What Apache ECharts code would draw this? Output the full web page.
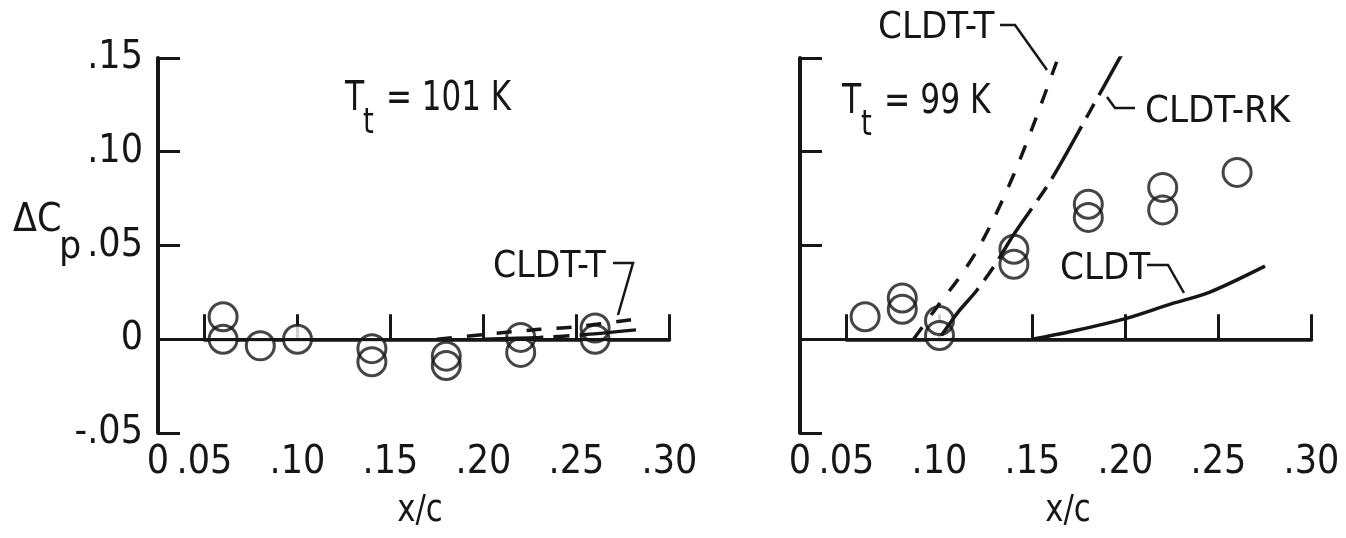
<!DOCTYPE html>
<html>
<head>
<meta charset="utf-8">
<title>ΔCp vs x/c</title>
<script src="https://cdn.jsdelivr.net/npm/echarts@6/dist/echarts.min.js"></script>
<style>
  html, body { margin: 0; padding: 0; background: #ffffff; }
  #chart { width: 1346px; height: 538px; }
</style>
</head>
<body>
<div id="chart"></div>
<script>
// Tick labels (broken x axis: "0" sits at the y axis, scale starts at .05)
const xTickLabels = ['0', '.05', '.10', '.15', '.20', '.25', '.30'];
const yTickLabels = ['-.05', '0', '.05', '.10', '.15'];

// Measured pressure increments, Tt = 101 K
const left101Measured = [
  [0.06, 0.012], [0.06, 0.0], [0.08, -0.0035], [0.10, 0.0],
  [0.14, -0.005], [0.14, -0.012], [0.18, -0.009], [0.18, -0.014],
  [0.22, 0.001], [0.22, -0.007], [0.26, 0.006], [0.26, 0.0]
];
// Theory, Tt = 101 K
const left101CLDT_T = [[0.175, 0.0], [0.20, 0.0025], [0.23, 0.0053], [0.25, 0.0067], [0.28, 0.0105]];
const left101CLDT_RK = [[0.20, 0.0], [0.23, 0.001], [0.255, 0.0025], [0.282, 0.005]];

// Measured pressure increments, Tt = 99 K
const right99Measured = [
  [0.06, 0.012], [0.08, 0.022], [0.08, 0.016], [0.10, 0.010], [0.10, 0.002],
  [0.14, 0.048], [0.14, 0.040], [0.18, 0.072], [0.18, 0.065],
  [0.22, 0.081], [0.22, 0.069], [0.26, 0.089]
];
// Theory, Tt = 99 K
const right99CLDT_T = [[0.086, 0.0], [0.10, 0.019], [0.11, 0.032], [0.12, 0.047], [0.13, 0.066], [0.14, 0.088], [0.15, 0.113], [0.163, 0.148]];
const right99CLDT_RK = [[0.101, 0.002], [0.11, 0.0145], [0.12, 0.026], [0.13, 0.040], [0.14, 0.056], [0.16, 0.085], [0.18, 0.12], [0.198, 0.152]];
const right99CLDT = [[0.15, 0.0], [0.17, 0.004], [0.20, 0.011], [0.225, 0.019], [0.245, 0.025], [0.275, 0.039]];

const INK = '#161616';
const FONT = '"Liberation Sans Narrow", "Arial Narrow", "DejaVu Sans Condensed", sans-serif';
const TICK_FONT = 39;
const NOTE_FONT = 38;

const xLabelFor = v => xTickLabels[Math.round((v - 0.05) / 0.05) + 1];
const yLabelFor = v => yTickLabels[Math.round((v + 0.05) / 0.05)];

// Two panels; each has a data grid starting at the y axis and a scale grid starting at .05
const panels = [{ left: 158, labels: true }, { left: 800, labels: false }];
const PX_PER_UNIT = 1860;
const TOP = 58, HEIGHT = 375;

const grid = [], xAxis = [], yAxis = [];
panels.forEach((p, i) => {
  const dataLeft = p.left;
  const scaleLeft = p.left + 0.025 * PX_PER_UNIT;
  grid.push({ left: dataLeft, top: TOP, width: 0.275 * PX_PER_UNIT, height: HEIGHT, outerBoundsMode: 'none' });
  grid.push({ left: scaleLeft, top: TOP, width: 0.25 * PX_PER_UNIT, height: HEIGHT, outerBoundsMode: 'none' });

  // data x axis: only the "0" at the origin
  xAxis.push({
    type: 'value', gridIndex: 2 * i, min: 0.025, max: 0.30,
    axisLine: { show: false }, axisTick: { show: false }, splitLine: { show: false },
    axisLabel: {
      customValues: [0.025], formatter: () => xTickLabels[0],
      color: INK, fontSize: TICK_FONT, fontFamily: FONT, margin: 10
    }
  });
  // scale x axis from .05 to .30
  xAxis.push({
    type: 'value', gridIndex: 2 * i + 1, min: 0.05, max: 0.30, interval: 0.05,
    axisLine: { show: true, lineStyle: { color: INK, width: 3.5 } },
    axisTick: { show: true, inside: true, length: 25, lineStyle: { color: INK, width: 3 } },
    splitLine: { show: false },
    axisLabel: { formatter: xLabelFor, color: INK, fontSize: TICK_FONT, fontFamily: FONT, margin: 10 }
  });
  yAxis.push({
    type: 'value', gridIndex: 2 * i, min: -0.05, max: 0.15, interval: 0.05,
    axisLine: { show: true, lineStyle: { color: INK, width: 4 } },
    axisTick: { show: true, inside: true, length: 22, lineStyle: { color: INK, width: 3 } },
    splitLine: { show: false },
    axisLabel: { show: p.labels, formatter: yLabelFor, color: INK, fontSize: TICK_FONT, fontFamily: FONT, margin: 15 }
  });
  yAxis.push({ type: 'value', gridIndex: 2 * i + 1, min: -0.05, max: 0.15, show: false });
});

const dashT = [15, 15];
const dashRK = [60, 10, 16, 10];

function panelSeries(axisIdx, measured, curves) {
  const out = [];
  // zero reference line from the y axis to .30
  out.push({
    type: 'line', xAxisIndex: axisIdx, yAxisIndex: axisIdx, data: [], z: 1, silent: true,
    markLine: {
      silent: true, symbol: 'none', label: { show: false },
      lineStyle: { color: INK, width: 3, type: 'solid' },
      data: [{ yAxis: 0 }]
    }
  });
  // white interiors of the data circles
  out.push({
    type: 'scatter', xAxisIndex: axisIdx, yAxisIndex: axisIdx, data: measured, z: 2, silent: true,
    symbol: 'circle', symbolSize: 28, itemStyle: { color: '#ffffff', borderWidth: 0 }
  });
  curves.forEach(c => out.push({
    type: 'line', name: c.name, xAxisIndex: axisIdx, yAxisIndex: axisIdx, data: c.data, z: 3,
    showSymbol: false, symbol: 'none', smooth: 0.3, silent: true,
    lineStyle: { color: INK, width: 3.5, type: c.dash }
  }));
  // circle outlines
  out.push({
    type: 'scatter', xAxisIndex: axisIdx, yAxisIndex: axisIdx, data: measured, z: 4, silent: true,
    symbol: 'circle', symbolSize: 28,
    itemStyle: { color: 'rgba(0,0,0,0)', borderColor: INK, borderWidth: 3 }
  });
  return out;
}

const series = [
  ...panelSeries(0, left101Measured, [
    { name: 'CLDT-T', data: left101CLDT_T, dash: dashT },
    { name: 'CLDT-RK', data: left101CLDT_RK, dash: dashRK }
  ]),
  ...panelSeries(2, right99Measured, [
    { name: 'CLDT-T', data: right99CLDT_T, dash: dashT },
    { name: 'CLDT-RK', data: right99CLDT_RK, dash: dashRK },
    { name: 'CLDT', data: right99CLDT, dash: 'solid' }
  ])
];

function txt(text, x, y, size, align, sx) {
  return {
    type: 'text', x, y, silent: true, scaleX: sx || 1,
    style: { text, fill: INK, fontSize: size, fontFamily: FONT, align: align || 'left', verticalAlign: 'middle' }
  };
}
function leader(points) {
  return { type: 'polyline', silent: true, shape: { points }, style: { stroke: INK, lineWidth: 2.5, fill: null } };
}

const graphic = [
  // y axis title
  txt('ΔC', 13, 221, 39),
  txt('p', 59, 248, 39),
  // x axis titles
  txt('x/c', 420, 511, 38, 'center', 0.9),
  txt('x/c', 1068, 511, 38, 'center', 0.9),
  // stagnation temperatures
  txt('T', 345, 99, 41, 'left', 0.85),
  txt('t', 363, 124, 36, 'left', 0.85),
  txt('= 101 K', 386, 99, 41, 'left', 0.84),
  txt('T', 842, 102, 41, 'left', 0.85),
  txt('t', 861, 126, 36, 'left', 0.85),
  txt('= 99 K', 884, 102, 41, 'left', 0.85),
  // curve labels and leaders
  txt('CLDT-T', 493, 267, NOTE_FONT, 'left', 0.97),
  leader([[613, 263], [633, 263], [618, 315]]),
  txt('CLDT-T', 878, 28, NOTE_FONT),
  leader([[1000, 25], [1015, 25], [1047, 70]]),
  txt('CLDT-RK', 1145, 112, NOTE_FONT),
  leader([[1107, 97], [1115, 108], [1135, 108]]),
  txt('CLDT', 1060, 269, NOTE_FONT),
  leader([[1147, 265], [1168, 265], [1184, 293]])
];

const chart = echarts.init(document.getElementById('chart'), null, { renderer: 'canvas' });
chart.setOption({
  backgroundColor: '#ffffff',
  animation: false,
  grid, xAxis, yAxis, series, graphic
});
</script>
</body>
</html>
